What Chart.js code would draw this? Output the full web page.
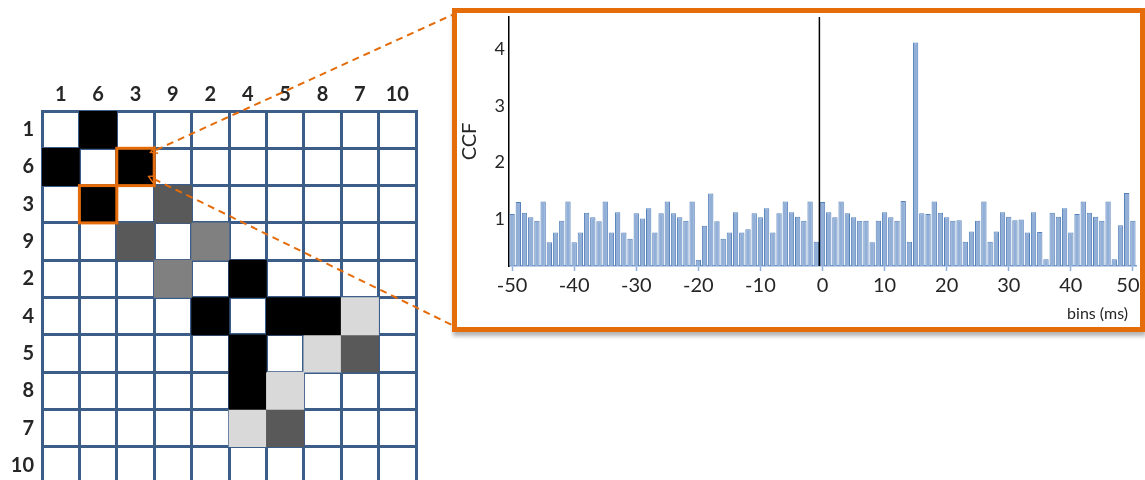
<!DOCTYPE html>
<html>
<head>
<meta charset="utf-8">
<script src="https://cdn.jsdelivr.net/npm/chart.js@4.4.1/dist/chart.umd.min.js"></script>
<style>
  html, body { margin: 0; padding: 0; background: #fff; overflow: hidden; }
  body { width: 1145px; height: 480px; position: relative; }
  #matrixWrap { position: absolute; left: 0; top: 0; width: 440px; height: 500px; }
  #links { position: absolute; left: 0; top: 0; pointer-events: none; }
  #ccfBox { position: absolute; left: 452px; top: 8px; width: 683px; height: 314px;
            border: 5px solid #e46c0a; background: #fff; box-shadow: 1px 4px 4px rgba(0,0,0,0.3); }
  #ccfWrap { position: relative; width: 683px; height: 314px; }
</style>
</head>
<body>
<div id="matrixWrap"><canvas id="matrix"></canvas></div>
<svg id="links" width="1145" height="480">
  <defs>
    <marker id="tip" markerWidth="8" markerHeight="8" refX="1" refY="4" orient="auto-start-reverse" markerUnits="userSpaceOnUse">
      <path d="M0,0 L7,4 L0,8" fill="none" stroke="#e46c0a" stroke-width="1.5"/>
    </marker>
  </defs>
  <line x1="156" y1="150" x2="452" y2="15" stroke="#e46c0a" stroke-width="2" stroke-dasharray="7 5" marker-start="url(#tip)"/>
  <line x1="154" y1="179" x2="452" y2="325" stroke="#e46c0a" stroke-width="2" stroke-dasharray="7 5" marker-start="url(#tip)"/>
</svg>
<div id="ccfBox"><div id="ccfWrap"><canvas id="ccf"></canvas></div></div>

<script>
const FONT = "Lato, 'Liberation Sans', sans-serif";
const TEXT = '#262626';

// neuron order used on both axes of the matrix
const orderLabels = ['1', '6', '3', '9', '2', '4', '5', '8', '7', '10'];
// shade of each cell: 0 empty, 1 light, 2 mid, 3 dark, 4 black
const cellLevels = [
  [0, 4, 0, 0, 0, 0, 0, 0, 0, 0],
  [4, 0, 4, 0, 0, 0, 0, 0, 0, 0],
  [0, 4, 0, 3, 0, 0, 0, 0, 0, 0],
  [0, 0, 3, 0, 2, 0, 0, 0, 0, 0],
  [0, 0, 0, 2, 0, 4, 0, 0, 0, 0],
  [0, 0, 0, 0, 4, 0, 4, 4, 1, 0],
  [0, 0, 0, 0, 0, 4, 0, 1, 3, 0],
  [0, 0, 0, 0, 0, 4, 1, 0, 0, 0],
  [0, 0, 0, 0, 0, 1, 3, 0, 0, 0],
  [0, 0, 0, 0, 0, 0, 0, 0, 0, 0]
];
const levelColors = ['rgba(0,0,0,0)', '#d9d9d9', '#808080', '#595959', '#000000'];
const outlinedCells = [[1, 2], [2, 1]]; // [row, col]

// cross-correlation histogram, lags -50 .. 50
const ccfValues = [
  1.09, 1.30, 1.11, 1.03, 0.97, 1.31, 0.59, 0.76, 0.97, 1.31,
  0.59, 0.76, 1.11, 1.03, 0.96, 1.31, 0.76, 1.12, 0.76, 0.65,
  1.10, 1.01, 1.19, 0.76, 1.10, 1.31, 1.10, 1.03, 0.97, 1.31,
  0.28, 0.88, 1.45, 0.96, 0.65, 0.76, 1.12, 0.76, 0.82, 1.10,
  1.03, 1.19, 0.76, 1.10, 1.31, 1.12, 1.04, 0.97, 1.31, 0.60,
  1.30, 1.12, 1.03, 1.31, 1.10, 1.03, 0.97, 0.97, 0.59, 0.97,
  1.12, 1.03, 0.97, 1.32, 0.60, 4.12, 1.10, 1.09, 1.31, 1.11,
  1.03, 0.97, 0.98, 0.60, 0.78, 0.97, 1.31, 0.60, 0.78, 1.12,
  1.04, 0.98, 0.99, 0.76, 1.12, 0.77, 0.29, 1.11, 1.04, 1.19,
  0.76, 1.09, 1.31, 1.11, 1.04, 0.97, 1.31, 0.29, 0.89, 1.46,
  0.97
];
const lagStart = -50;
const lags = ccfValues.map((_, i) => lagStart + i);
const lagTicks = [-50, -40, -30, -20, -10, 0, 10, 20, 30, 40, 50];
const ccfTicks = [1, 2, 3, 4];
const ccfRange = [0.17, 4.57];
const zeroLag = -0.5;

const gridBlue = '#3d5d89';

const cellOutline = {
  id: 'cellOutline',
  afterDraw(chart) {
    const ctx = chart.ctx;
    ctx.save();
    ctx.strokeStyle = '#e46c0a';
    ctx.lineWidth = 3;
    outlinedCells.forEach(([r, c]) => {
      const el = chart.getDatasetMeta(r).data[c];
      const p = el.getProps(['x', 'y', 'base', 'width'], true);
      ctx.strokeRect(p.x - p.width / 2, Math.min(p.y, p.base), p.width, Math.abs(p.base - p.y));
    });
    ctx.restore();
  }
};

new Chart(document.getElementById('matrix'), {
  type: 'bar',
  data: {
    labels: orderLabels,
    datasets: cellLevels.map((row, r) => ({
      data: row.map(l => (l ? [r, r + 1] : null)),
      backgroundColor: row.map(l => levelColors[l]),
      borderWidth: 0,
      grouped: false,
      barPercentage: 1,
      categoryPercentage: 1
    }))
  },
  options: {
    responsive: true,
    maintainAspectRatio: false,
    animation: false,
    layout: { padding: { left: 0, right: 24, top: 0, bottom: 16 } },
    plugins: { legend: { display: false }, tooltip: { enabled: false } },
    scales: {
      x: {
        position: 'top',
        offset: true,
        z: 1,
        grid: { offset: true, color: gridBlue, lineWidth: 3, drawTicks: false },
        border: { color: gridBlue, width: 3 },
        ticks: { color: TEXT, font: { family: FONT, size: 20, weight: 'bold' }, padding: 4, maxRotation: 0, autoSkip: false },
        afterFit: s => { s.height = 111; s.paddingLeft = 0; s.paddingRight = 0; }
      },
      y: {
        type: 'linear',
        reverse: true,
        min: 0,
        max: 10,
        z: 1,
        afterBuildTicks: s => { s.ticks = orderLabels.map((_, i) => ({ value: i + 0.5 })); },
        grid: { offset: true, color: gridBlue, lineWidth: 3, drawTicks: false },
        border: { color: gridBlue, width: 3 },
        ticks: { color: TEXT, font: { family: FONT, size: 20, weight: 'bold' }, padding: 8,
                 callback: v => orderLabels[Math.floor(v)] },
        afterFit: s => { s.width = 42; s.paddingTop = 0; s.paddingBottom = 0; }
      }
    }
  },
  plugins: [cellOutline]
});

new Chart(document.getElementById('ccf'), {
  type: 'bar',
  data: {
    datasets: [
      {
        type: 'line',
        data: [{ x: zeroLag, y: ccfRange[0] }, { x: zeroLag, y: ccfRange[1] }],
        borderColor: '#000',
        borderWidth: 1.5,
        pointRadius: 0,
        order: 0
      },
      {
        data: lags.map((x, i) => ({ x, y: ccfValues[i] })),
        backgroundColor: '#92afd7',
        borderColor: '#5580ba',
        borderWidth: 1,
        barPercentage: 0.86,
        categoryPercentage: 1,
        order: 1
      }
    ]
  },
  options: {
    responsive: true,
    maintainAspectRatio: false,
    animation: false,
    layout: { padding: { left: 0, right: 4, top: 4, bottom: 0 } },
    plugins: { legend: { display: false }, tooltip: { enabled: false } },
    scales: {
      x: {
        type: 'linear',
        min: lagStart - 0.5,
        max: lags[lags.length - 1] + 0.5,
        offset: false,
        afterBuildTicks: s => { s.ticks = lagTicks.map(v => ({ value: v })); },
        grid: { offset: false, drawOnChartArea: false, drawTicks: true, tickLength: 5, tickColor: '#8eb0db', tickWidth: 1.5 },
        border: { color: '#7ea1d1', width: 1.5 },
        ticks: { color: TEXT, font: { family: FONT, size: 20 }, padding: 3, maxRotation: 0, autoSkip: false,
                 callback: v => (v === 50 ? v + '\u2002' : String(v)) },
        title: { display: true, text: 'bins (ms)\u2002', align: 'end', color: TEXT,
                 font: { family: FONT, size: 16 }, padding: { top: 0, bottom: 4 } },
        afterFit: s => { s.height = 61; s.paddingLeft = 0; s.paddingRight = 0; }
      },
      y: {
        min: ccfRange[0],
        max: ccfRange[1],
        afterBuildTicks: s => { s.ticks = ccfTicks.map(v => ({ value: v })); },
        grid: { drawOnChartArea: false, drawTicks: false },
        border: { color: '#000', width: 1.5 },
        ticks: { color: TEXT, font: { family: FONT, size: 18 }, padding: 4 },
        title: { display: true, text: 'CCF', color: TEXT, font: { family: FONT, size: 20 }, padding: { top: 1, bottom: 0 } },
        afterFit: s => { s.width = 52; s.paddingTop = 0; s.paddingBottom = 0; }
      }
    }
  }
});
</script>
</body>
</html>
